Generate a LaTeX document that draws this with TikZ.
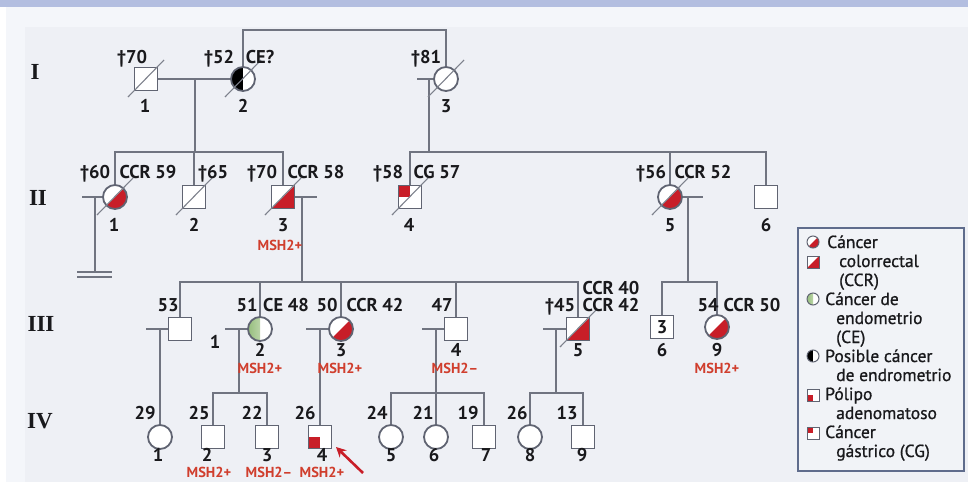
\documentclass[tikz,border=0pt]{standalone}
\usepackage{fontspec}
\setmainfont{PT Sans}
\newfontfamily\legfont{PT Sans}[FakeBold=0.9]
\newfontfamily\romfont{Liberation Serif}
\usetikzlibrary{calc,arrows.meta}
\definecolor{bgmain}{RGB}{238,240,245}
\definecolor{bgstrip}{RGB}{244,246,250}
\definecolor{bluebar}{RGB}{179,190,224}
\definecolor{lncol}{RGB}{112,116,128}
\definecolor{symcol}{RGB}{96,100,114}
\definecolor{slashcol}{RGB}{125,129,140}
\definecolor{crred}{RGB}{200,30,40}
\definecolor{mshred}{RGB}{208,62,45}
\definecolor{cegreen}{RGB}{150,190,125}
\definecolor{celight}{RGB}{222,234,210}
\definecolor{txtcol}{RGB}{25,25,28}
\definecolor{boxcol}{RGB}{95,108,140}
\definecolor{legbg}{RGB}{241,243,247}
\begin{document}
\begin{tikzpicture}[x=1pt,y=-1pt,
  ln/.style={draw=lncol, line width=1.8pt},
  sym/.style={draw=symcol, line width=1.8pt, fill=white, inner sep=0pt},
  male/.style={sym, rectangle, minimum size=23pt},
  female/.style={sym, circle, minimum size=24pt},
  ccr/.style={path picture={\fill[crred] (path picture bounding box.south west) -- (path picture bounding box.north east) -- (path picture bounding box.south east) -- cycle;}},
  ce/.style={path picture={\shade[left color=cegreen, right color=celight] (path picture bounding box.north west) rectangle (path picture bounding box.south);}},
  poss/.style={path picture={\fill[black] (path picture bounding box.north west) rectangle (path picture bounding box.south);}},
  polyp/.style={path picture={\fill[crred] (path picture bounding box.south west) rectangle (path picture bounding box.center);}},
  gastric/.style={path picture={\fill[crred] (path picture bounding box.north west) rectangle (path picture bounding box.center);}},
  dec/.style={draw=slashcol, line width=1.1pt},
  lbl/.style={font=\fontsize{18.5}{20}\selectfont\bfseries, text=txtcol, inner sep=0pt, text height=13pt, text depth=0pt},
  msh/.style={font=\fontsize{14.5}{16}\selectfont\bfseries, text=mshred, inner sep=0pt, text height=10pt, text depth=0pt},
  gen/.style={font=\romfont\bfseries\fontsize{23}{26}\selectfont, text=txtcol, inner sep=0pt, text height=15pt, text depth=0pt},
  lg/.style={font=\legfont\fontsize{17.5}{19}\selectfont, anchor=base west, inner sep=0pt, text=txtcol},
  lic/.style={line width=1pt, minimum size=12pt}
]
\useasboundingbox (0,0) rectangle (968,482);
% background
\fill[white] (0,0) rectangle (968,482);
\fill[bluebar] (0,0) rectangle (968,7);
\fill[bgstrip] (6,7) rectangle (968,482);
\fill[bgmain] (25,27) rectangle (968,482);

% generation labels
\node[gen] (gI) at (35,72) {I};
\node[gen] (gII) at (38,198) {II};
\node[gen] (gIII) at (41,324) {III};
\node[gen] (gIV) at (40,421) {IV};

% helper coordinates
\coordinate (top) at (0,30);
\coordinate (s2a) at (0,152);
\coordinate (s3) at (0,282);
\coordinate (s4) at (0,393);

% ---------- generation I
\node[male] (I1) at (146,79) {};
\node[female,poss] (I2) at (243,79) {};
\node[female] (I3) at (446,79) {};
\draw[ln] (I2.north) -- (I2.north |- top) -- (I3.north |- top) -- (I3.north);
\draw[ln] (I1.east) -- (I2.west);
\coordinate (m1) at (195,79);
\draw[ln] (m1) -- (m1 |- s2a);
\coordinate (I3s) at (417,79);
\draw[ln] (I3s) -- (I3.west);
\coordinate (m2) at (429,79);
\draw[ln] (m2) -- (m2 |- s2a);

% ---------- generation II
\node[female,ccr] (II1) at (115,197) {};
\node[male] (II2) at (194,197) {};
\node[male,ccr] (II3) at (283,197) {};
\node[male,gastric] (II4) at (410,197) {};
\node[female,ccr] (II5) at (670,197) {};
\node[male] (II6) at (766,197) {};
\draw[ln] (II1.north) -- (II1.north |- s2a) -- (II3.north |- s2a) -- (II3.north);
\draw[ln] (II2.north) -- (II2.north |- s2a);
\draw[ln] (II4.north) -- (II4.north |- s2a) -- (II6.north |- s2a) -- (II6.north);
\draw[ln] (II5.north) -- (II5.north |- s2a);
% II-1 spouse, no offspring
\coordinate (II1s) at (82,197);
\draw[ln] (II1s) -- (II1.west);
\coordinate (II1d) at (95,197);
\coordinate (nf1) at (77,272); \coordinate (nf2) at (112,272);
\coordinate (nf3) at (77,277); \coordinate (nf4) at (112,277);
\draw[ln] (II1d) -- (II1d |- nf1);
\draw[lncol, line width=1.5pt] (nf1) -- (nf2) (nf3) -- (nf4);
% II-3 spouse
\coordinate (II3s) at (317,197);
\draw[ln] (II3.east) -- (II3s);
\coordinate (II3d) at (302,197);
\draw[ln] (II3d) -- (II3d |- s3);
% II-5 spouse
\coordinate (II5s) at (703,197);
\draw[ln] (II5.east) -- (II5s);
\coordinate (II5d) at (688,197);
\draw[ln] (II5d) -- (II5d |- s3);

% ---------- generation III
\node[male] (III1) at (180,329) {};
\node[female,ce] (III2) at (260,329) {};
\node[female,ccr] (III3) at (341,329) {};
\node[male] (III4) at (456,329) {};
\node[male,ccr] (III5) at (578,329) {};
\node[male, font=\fontsize{18.5}{20}\selectfont\bfseries, text=txtcol] (III6) at (662,327) {3};
\node[female,ccr] (III9) at (717,327) {};
\draw[ln] (III1.north) -- (III1.north |- s3) -- (III5.north |- s3) -- (III5.north);
\draw[ln] (III2.north) -- (III2.north |- s3);
\draw[ln] (III3.north) -- (III3.north |- s3);
\draw[ln] (III4.north) -- (III4.north |- s3);
\draw[ln] (III6.north) -- (III6.north |- s3) -- (III9.north |- s3) -- (III9.north);

% ---------- generation IV
\node[female] (IV1) at (160,437) {};
\node[male] (IV2) at (213,437) {};
\node[male] (IV3) at (267,437) {};
\node[male,polyp] (IV4) at (320,437) {};
\node[female] (IV5) at (391,437) {};
\node[female] (IV6) at (436,437) {};
\node[male] (IV7) at (484,437) {};
\node[female] (IV8) at (530,437) {};
\node[male] (IV9) at (583,437) {};
\draw[ln] (IV2.north) -- (IV2.north |- s4) -- (IV3.north |- s4) -- (IV3.north);
\draw[ln] (IV5.north) -- (IV5.north |- s4) -- (IV7.north |- s4) -- (IV7.north);
\draw[ln] (IV8.north) -- (IV8.north |- s4) -- (IV9.north |- s4) -- (IV9.north);

% generation III spouses and descent
\coordinate (III1s) at (146,329);
\draw[ln] (III1s) -- (III1.west);
\draw[ln] (IV1.north |- III1s) -- (IV1.north);
\coordinate (III2s) at (225,329);
\draw[ln] (III2s) -- (III2.west);
\coordinate (III2d) at (239,329);
\draw[ln] (III2d) -- (III2d |- s4);
\coordinate (III3s) at (306,329);
\draw[ln] (III3s) -- (III3.west);
\draw[ln] (IV4.north |- III3s) -- (IV4.north);
\coordinate (III4s) at (422,329);
\draw[ln] (III4s) -- (III4.west);
\draw[ln] (IV6.north |- III4s) -- (IV6.north);
\coordinate (III5s) at (543,329);
\draw[ln] (III5s) -- (III5.west);
\coordinate (III5d) at (556,329);
\draw[ln] (III5d) -- (III5d |- s4);

% deceased slashes
\foreach \n in {I1,I2,I3,II1,II2,II3,II4,II5,III5}
  \draw[dec] ($(\n.center)+(-18,18)$) -- ($(\n.center)+(18,-19)$);

% ---------- labels
\foreach \nm/\x/\y/\t in {
  a1/132/57/†70, a2/219/57/†52, a3/260/57/CE?, a4/426/57/†81,
  n1/145/106/1, n2/243/106/2, n3/446/106/3,
  b1/95/172/†60, b2/148/172/CCR 59, b3/213/172/†65, b4/262/172/†70,
  b5/316/172/CCR 58, b6/388/172/†58, b7/437/172/CG 57, b8/651/172/†56,
  b9/703/172/CCR 52,
  o1/114/225/1, o2/194/225/2, o3/283/225/3, o4/409/225/4, o5/670/225/5, o6/766/225/6,
  c1/168/305/53, c2/247/305/51, c3/286/305/CE 48, c4/327/305/50, c5/375/305/CCR 42,
  c6/442/305/47, c7/560/305/†45, c8/611/305/CCR 42, c9/611/288/CCR 40,
  c10/708/305/54, c11/752/305/CCR 50,
  p1/215/342/1, p2/260/350/2, p3/341/350/3, p4/456/350/4, p5/578/350/5,
  p6/662/350/6, p9/717/350/9,
  d1/145/413/29, d2/199/413/25, d3/252/413/22, d4/305/413/26, d5/377/413/24,
  d6/423/413/21, d7/468/413/19, d8/517/413/26, d9/567/413/13,
  q1/158/455/1, q2/207/455/2, q3/267/455/3, q4/322/455/4, q5/391/455/5,
  q6/434/455/6, q7/486/455/7, q8/530/455/8, q9/582/455/9}
  \node[lbl] (\nm) at (\x,\y) {\t};

\foreach \nm/\x/\y/\t in {
  m1/280/245/MSH2+, m2/260/368/MSH2+, m3/340/368/MSH2+, m4/455/368/MSH2–,
  m5/717/368/MSH2+, m6/209/472/MSH2+, m7/269/472/MSH2–, m8/322/472/MSH2+}
  \node[msh] (\nm) at (\x,\y) {\t};

% proband arrow
\coordinate (arA) at (363,473);
\coordinate (arB) at (336,447);
\draw[crred, line width=2.6pt, -{Stealth[length=10pt,width=10pt]}] (arA) -- (arB);

% ---------- legend
\node[draw=boxcol, line width=1.8pt, fill=legbg, minimum width=166pt, minimum height=243pt, inner sep=0pt, anchor=north west] (leg) at (797,227) {};
\node[female,ccr,lic] (L1) at (813,242) {};
\node[male,ccr,lic] (L2) at (813,262) {};
\node[female,ce,lic] (L3) at (813,299) {};
\node[female,poss,lic] (L4) at (813,356) {};
\node[male,polyp,lic] (L5) at (813,395) {};
\node[male,gastric,lic] (L6) at (813,433) {};
\node[lg] (lt1) at (827,248) {Cáncer};
\node[lg] (lt2) at (839,267) {colorrectal};
\node[lg] (lt3) at (839,286) {(CCR)};
\node[lg] (lt4) at (825,305) {Cáncer de};
\node[lg] (lt5) at (836,324) {endometrio};
\node[lg] (lt6) at (836,343) {(CE)};
\node[lg] (lt7) at (825,362) {Posible cáncer};
\node[lg] (lt8) at (836,381) {de endrometrio};
\node[lg] (lt9) at (825,400) {Pólipo};
\node[lg] (lt10) at (836,419) {adenomatoso};
\node[lg] (lt11) at (825,438) {Cáncer};
\node[lg] (lt12) at (836,457) {gástrico (CG)};
\end{tikzpicture}
\end{document}
